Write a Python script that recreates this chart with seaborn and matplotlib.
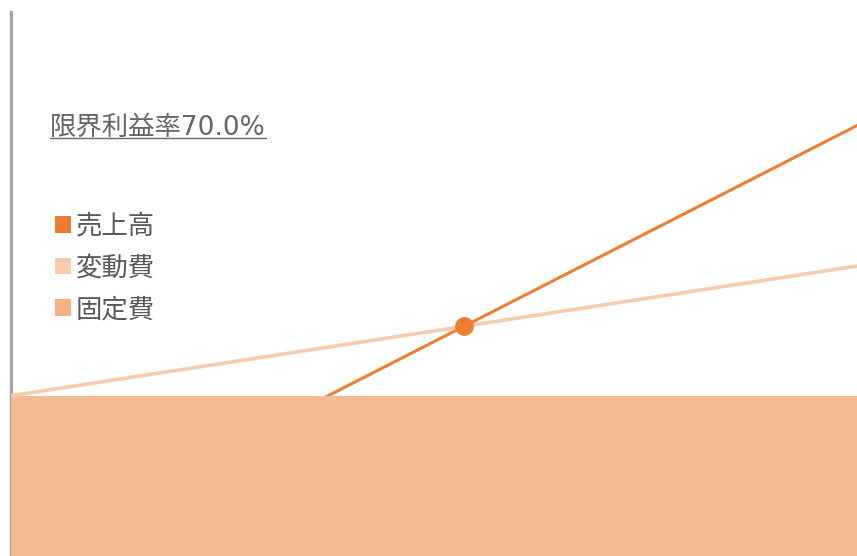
import matplotlib
matplotlib.use("Agg")
import matplotlib.pyplot as plt
from matplotlib.patches import Patch
from matplotlib.lines import Line2D
import pandas as pd
import seaborn as sns

# Break-even chart data (万円)
sales_points = [0, 800]          # sales volume on the x axis
fixed_cost = 300
variable_ratio = 0.3
marginal_profit_ratio = 1 - variable_ratio
series_labels = ["売上高", "変動費", "固定費"]
series_colors = ["#ed7d31", "#f8cbad", "#f4b183"]
fill_color = "#f4bb92"

sales = [s for s in sales_points]
total_cost = [fixed_cost + variable_ratio * s for s in sales_points]
break_even = fixed_cost / marginal_profit_ratio

df = pd.DataFrame({
    "x": sales_points * 2,
    "y": sales + total_cost,
    "series": [series_labels[0]] * 2 + [series_labels[1]] * 2,
})

sns.set_theme(style="white")
plt.rcParams["font.family"] = ["DejaVu Sans", "Noto Sans CJK JP"]

W, H = 857, 556
fig = plt.figure(figsize=(W / 100, H / 100), dpi=100)
left_px, top_px, bottom_px = 10.5, 12, 558
ax = fig.add_axes([left_px / W, (H - bottom_px) / H,
                   (W - left_px) / W, (bottom_px - top_px) / H])

sns.lineplot(data=df[df.series == series_labels[0]], x="x", y="y",
             color=series_colors[0], lw=2.2, ax=ax, zorder=2, legend=False)
ax.fill_between(sales_points, 0, fixed_cost, color=fill_color, lw=0, zorder=3)
sns.lineplot(data=df[df.series == series_labels[1]], x="x", y="y",
             color=series_colors[1], lw=2.6, ax=ax, zorder=4, legend=False)
ax.plot([break_even], [break_even], "o", color=series_colors[0],
        markersize=12.5, zorder=5)

ax.set_xlim(0, 800)
ax.set_ylim(0, 1010)
ax.set_xticks([])
ax.set_yticks([])
ax.set_xlabel("")
ax.set_ylabel("")
for side in ["top", "right", "bottom"]:
    ax.spines[side].set_visible(False)
ax.spines["left"].set_color("#a6a6a6")
ax.spines["left"].set_linewidth(2.4)

# Marginal profit ratio caption, underlined
label = fig.text(50 / W, 1 - 135 / H, f"限界利益率{marginal_profit_ratio * 100:.1f}%",
                 fontsize=19, color="#666666", ha="left", va="baseline")
fig.canvas.draw()
bb = label.get_window_extent()
uy = 1 - 138 / H
fig.add_artist(Line2D([bb.x0 / W, bb.x1 / W], [uy, uy],
                      transform=fig.transFigure, color="#666666", lw=1.0))

handles = [Patch(facecolor=c, edgecolor="none") for c in series_colors]
fig.legend(handles, series_labels, loc="upper left",
           bbox_to_anchor=(55 / W, 1 - 213.5 / H), frameon=False,
           fontsize=19, labelcolor="#595959", handlelength=0.6,
           handleheight=0.6, handletextpad=0.2, labelspacing=0.6,
           borderpad=0, borderaxespad=0)

fig.savefig("out.png", dpi=100)
